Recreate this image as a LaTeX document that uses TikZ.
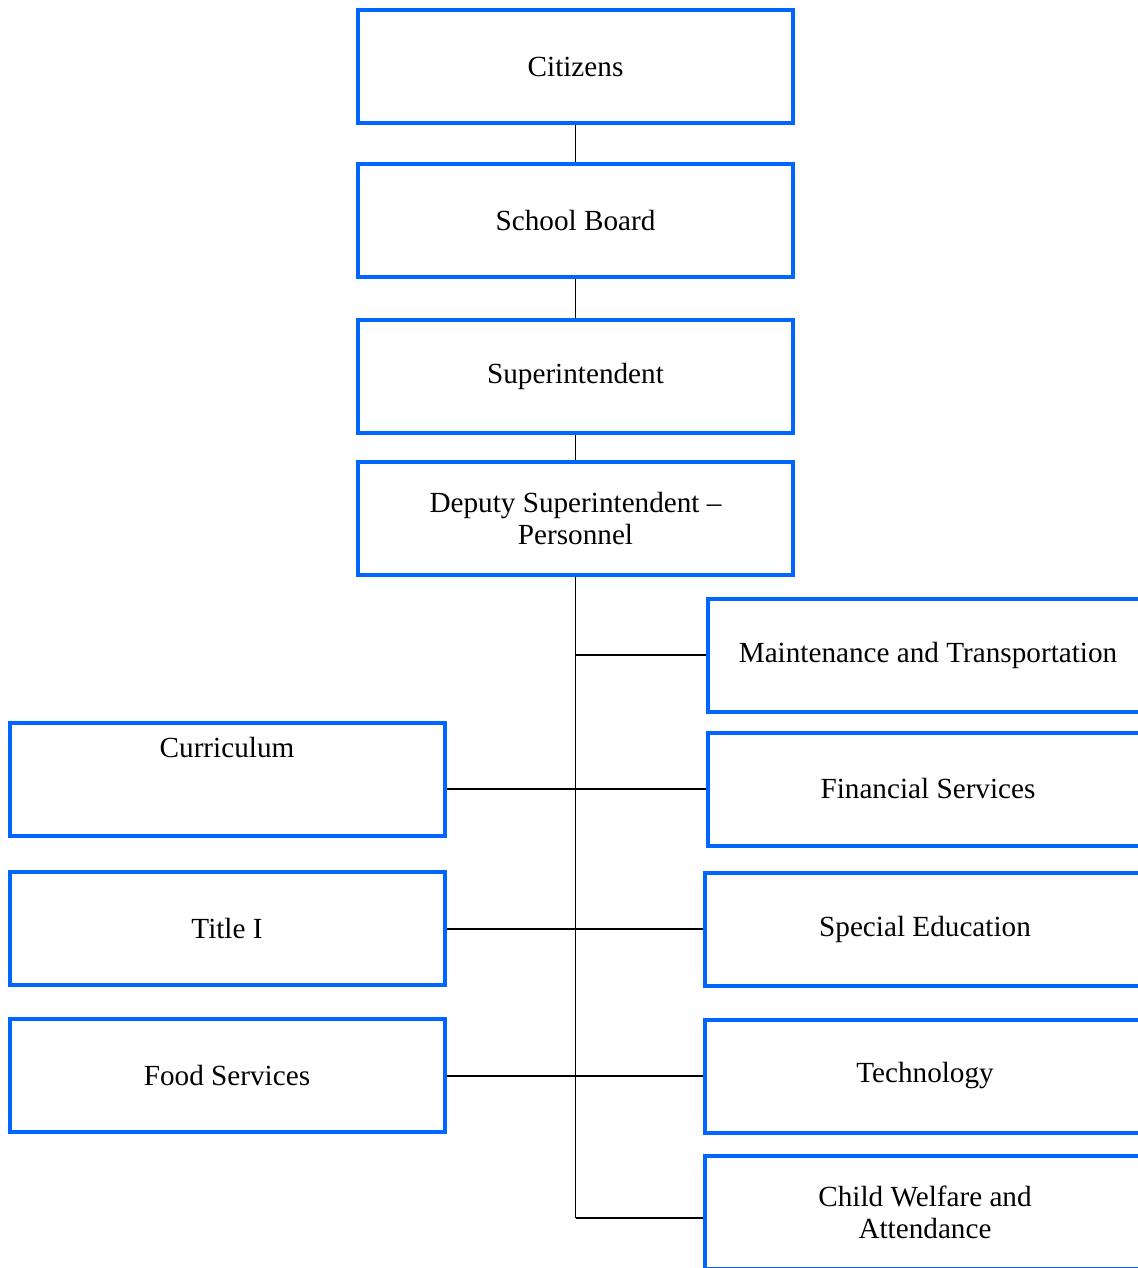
\documentclass[tikz,border=0pt]{standalone}
\usepackage{fontspec}
\setmainfont{Liberation Serif}
\definecolor{boxblue}{RGB}{0,102,255}

\begin{document}
\begin{tikzpicture}[x=0.5pt,y=-0.5pt,
  orgbox/.style={draw=boxblue,line width=2pt,minimum width=217.5pt,minimum height=56.5pt,
    inner sep=0pt,align=center,font=\fontsize{14.6}{16}\selectfont},
  sidebox/.style={orgbox,minimum width=220pt},
  link/.style={line width=0.7pt}]
\useasboundingbox (0,0) rectangle (1138,1268);
\clip (0,0) rectangle (1138,1268);
% chain at the top
\node[orgbox] (citizens) at (575.5,66.5) {Citizens};
\node[orgbox] (board) at (575.5,220.5) {School Board};
\node[orgbox] (super) at (575.5,376) {Superintendent};
\node[orgbox] (deputy) at (575.5,518.5) {Deputy Superintendent –\\Personnel};
% left column
\node[orgbox] (curriculum) at (227,779) {Curriculum\\~\\~};
\node[orgbox] (title) at (227,928) {Title I};
\node[orgbox] (food) at (227,1075.5) {Food Services};
% right column
\node[sidebox] (maint) at (928,655) {Maintenance and Transportation};
\node[sidebox] (fin) at (928,789) {Financial Services};
\node[sidebox] (special) at (925,929) {Special Education};
\node[sidebox] (tech) at (925,1076) {Technology};
\node[sidebox] (welfare) at (925,1212.5) {Child Welfare and\\Attendance};
\coordinate (trunkend) at (575.5,1218);
% connectors
\draw[link] (citizens) -- (board);
\draw[link] (board) -- (super);
\draw[link] (super) -- (deputy);
\draw[link] (deputy.south) -- (trunkend);
\draw[link] (deputy.south |- maint.west) -- (maint.west);
\foreach \l/\r in {curriculum/fin,title/special,food/tech}
  \draw[link] (\r.west) -- (\r.west -| \l.east);
\draw[link] (trunkend) -- (trunkend -| welfare.west);
\end{tikzpicture}
\end{document}
